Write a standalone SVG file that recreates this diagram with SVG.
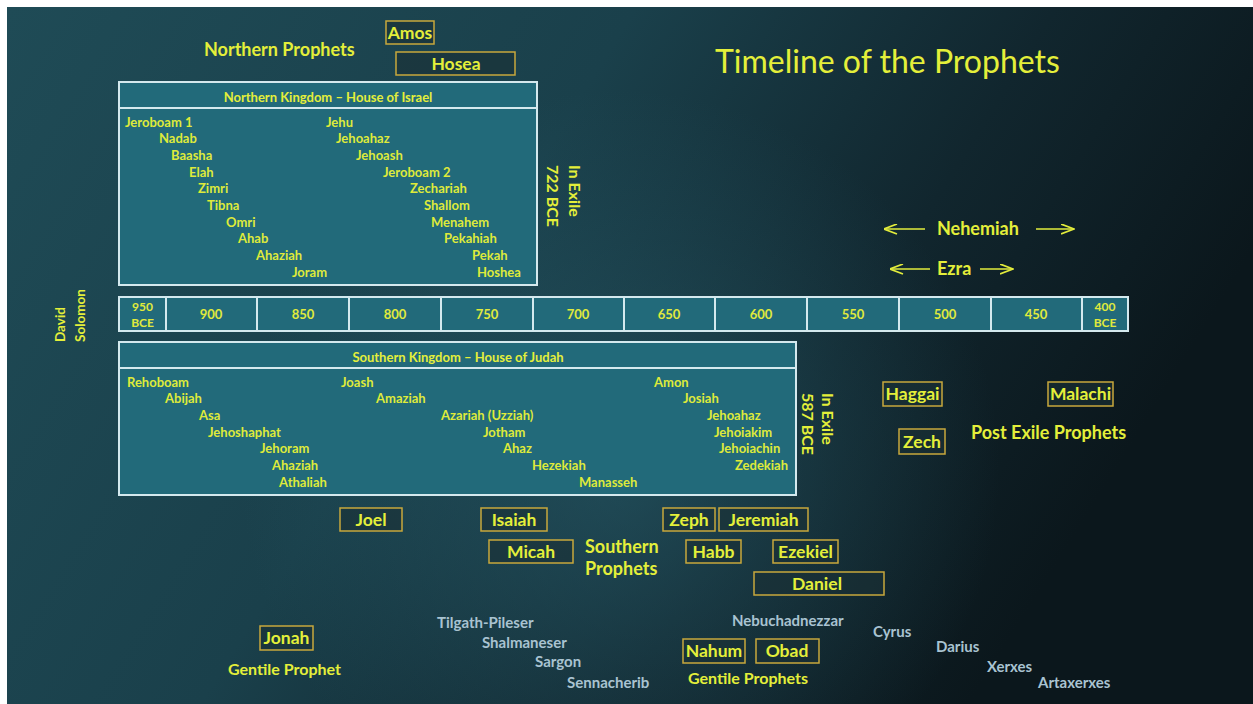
<svg xmlns="http://www.w3.org/2000/svg" width="1253" height="704" viewBox="0 0 1253 704">
<defs>
<linearGradient id="bg" x1="0" y1="0" x2="1" y2="0.35">
<stop offset="0" stop-color="#1f4b56"/>
<stop offset="0.45" stop-color="#1a404b"/>
<stop offset="0.75" stop-color="#11262e"/>
<stop offset="1" stop-color="#0b171c"/>
</linearGradient>
<radialGradient id="glow" cx="620" cy="470" r="380" gradientUnits="userSpaceOnUse">
<stop offset="0" stop-color="#2a6170" stop-opacity="0.55"/>
<stop offset="1" stop-color="#2a6170" stop-opacity="0"/>
</radialGradient>
<marker id="ah" viewBox="0 0 14 11" refX="13.5" refY="5.5" markerWidth="14" markerHeight="11" markerUnits="userSpaceOnUse" orient="auto">
<path d="M0.5,0.5 L13.5,5.5 L0.5,10.5" fill="none" stroke="#e2ec3c" stroke-width="1.7"/>
</marker>
</defs>
<style>
text{font-family:Lato,"Open Sans","Liberation Sans",sans-serif;font-weight:bold;fill:#e4ef3a}
.nm{font-size:13px;fill:#dfea3a}
.hd{font-size:13px;text-anchor:middle}
.yr{font-size:13px;text-anchor:middle;fill:#e0ea3c}
.yr2{font-size:12px;text-anchor:middle;fill:#e0ea3c}
.kbox{fill:#226a7a;stroke:#d4e9ee;stroke-width:2}
.kline{stroke:#d4e9ee;stroke-width:2}
.pbox{fill:#1a3036;fill-opacity:0.6;stroke:#c8a83c;stroke-width:1.5}
.pt{font-size:17.5px;text-anchor:middle}
.lb{font-size:18px}
.gl{font-size:16px}
.kg{font-size:15px;fill:#a9c3d1}
.rot{font-size:16px}
.conn{stroke:#e2ec3c;stroke-width:1.7;fill:none}
</style>
<rect x="0" y="0" width="1253" height="704" fill="#ffffff"/>
<rect x="7" y="7" width="1246" height="697" fill="url(#bg)"/>
<rect x="7" y="7" width="1246" height="697" fill="url(#glow)"/>

<text x="715" y="73" style="font-size:32px;font-weight:normal">Timeline of the Prophets</text>

<g id="northern-prophets-label"><text class="lb" x="204" y="56">Northern  Prophets</text></g>
<g id="amos"><rect class="pbox" x="386" y="21" width="48" height="23"/><text class="pt" x="410" y="38.5">Amos</text></g>
<g id="hosea"><rect class="pbox" x="396" y="52" width="119" height="23"/><text class="pt" x="456" y="69.5">Hosea</text></g>

<g id="northern-kingdom">
<rect class="kbox" x="119" y="82" width="418" height="203"/>
<line class="kline" x1="119" y1="108" x2="537" y2="108"/>
<text class="hd" x="328" y="101.5">Northern Kingdom – House of Israel</text>
<text class="nm" x="125" y="126.5">Jeroboam 1</text>
<text class="nm" x="159" y="143.2">Nadab</text>
<text class="nm" x="171" y="159.8">Baasha</text>
<text class="nm" x="189" y="176.5">Elah</text>
<text class="nm" x="198" y="193.2">Zimri</text>
<text class="nm" x="207" y="209.8">Tibna</text>
<text class="nm" x="226" y="226.5">Omri</text>
<text class="nm" x="238" y="243.2">Ahab</text>
<text class="nm" x="256" y="259.8">Ahaziah</text>
<text class="nm" x="292" y="276.5">Joram</text>
<text class="nm" x="326" y="126.5">Jehu</text>
<text class="nm" x="336" y="143.2">Jehoahaz</text>
<text class="nm" x="356" y="159.8">Jehoash</text>
<text class="nm" x="383" y="176.5">Jeroboam 2</text>
<text class="nm" x="410" y="193.2">Zechariah</text>
<text class="nm" x="424" y="209.8">Shallom</text>
<text class="nm" x="431" y="226.5">Menahem</text>
<text class="nm" x="444" y="243.2">Pekahiah</text>
<text class="nm" x="472" y="259.8">Pekah</text>
<text class="nm" x="477" y="276.5">Hoshea</text>
</g>
<g id="exile-722">
<text class="rot" transform="translate(569,165) rotate(90)">In Exile</text>
<text class="rot" transform="translate(547,165) rotate(90)">722 BCE</text>
</g>

<g id="david-solomon">
<text class="rot" style="font-size:13.5px" transform="translate(65,342) rotate(-90)">David</text>
<text class="rot" style="font-size:13.5px" transform="translate(85,342) rotate(-90)">Solomon</text>
</g>

<g id="timeline-bar">
<rect class="kbox" x="119" y="297" width="1009" height="34"/>
<line class="kline" x1="166" y1="297" x2="166" y2="331"/>
<line class="kline" x1="257" y1="297" x2="257" y2="331"/>
<line class="kline" x1="349" y1="297" x2="349" y2="331"/>
<line class="kline" x1="441" y1="297" x2="441" y2="331"/>
<line class="kline" x1="533" y1="297" x2="533" y2="331"/>
<line class="kline" x1="624" y1="297" x2="624" y2="331"/>
<line class="kline" x1="715" y1="297" x2="715" y2="331"/>
<line class="kline" x1="807" y1="297" x2="807" y2="331"/>
<line class="kline" x1="899" y1="297" x2="899" y2="331"/>
<line class="kline" x1="991" y1="297" x2="991" y2="331"/>
<line class="kline" x1="1082" y1="297" x2="1082" y2="331"/>
<text class="yr2" x="142.5" y="310.5">950</text>
<text class="yr2" x="142.5" y="326.5">BCE</text>
<text class="yr" x="211" y="318.5">900</text>
<text class="yr" x="303" y="318.5">850</text>
<text class="yr" x="395" y="318.5">800</text>
<text class="yr" x="487" y="318.5">750</text>
<text class="yr" x="578" y="318.5">700</text>
<text class="yr" x="669" y="318.5">650</text>
<text class="yr" x="761" y="318.5">600</text>
<text class="yr" x="853" y="318.5">550</text>
<text class="yr" x="945" y="318.5">500</text>
<text class="yr" x="1036" y="318.5">450</text>
<text class="yr2" x="1105" y="310.5">400</text>
<text class="yr2" x="1105" y="326.5">BCE</text>
</g>

<g id="southern-kingdom">
<rect class="kbox" x="119" y="342" width="677" height="153"/>
<line class="kline" x1="119" y1="368" x2="796" y2="368"/>
<text class="hd" x="458" y="361.5">Southern Kingdom – House of Judah</text>
<text class="nm" x="127" y="386.5">Rehoboam</text>
<text class="nm" x="165" y="403.2">Abijah</text>
<text class="nm" x="199" y="419.8">Asa</text>
<text class="nm" x="208" y="436.5">Jehoshaphat</text>
<text class="nm" x="260" y="453.2">Jehoram</text>
<text class="nm" x="272" y="469.8">Ahaziah</text>
<text class="nm" x="279" y="486.5">Athaliah</text>
<text class="nm" x="341" y="386.5">Joash</text>
<text class="nm" x="376" y="403.2">Amaziah</text>
<text class="nm" x="441" y="419.8">Azariah (Uzziah)</text>
<text class="nm" x="483" y="436.5">Jotham</text>
<text class="nm" x="503" y="453.2">Ahaz</text>
<text class="nm" x="532" y="469.8">Hezekiah</text>
<text class="nm" x="579" y="486.5">Manasseh</text>
<text class="nm" x="654" y="386.5">Amon</text>
<text class="nm" x="683" y="403.2">Josiah</text>
<text class="nm" x="707" y="419.8">Jehoahaz</text>
<text class="nm" x="714" y="436.5">Jehoiakim</text>
<text class="nm" x="719" y="453.2">Jehoiachin</text>
<text class="nm" x="735" y="469.8">Zedekiah</text>
</g>
<g id="exile-587">
<text class="rot" transform="translate(822,393) rotate(90)">In Exile</text>
<text class="rot" transform="translate(802,393) rotate(90)">587 BCE</text>
</g>

<g id="nehemiah"><text class="lb" x="937" y="235">Nehemiah</text></g>
<g id="ezra"><text class="lb" x="937" y="275">Ezra</text></g>

<g id="connectors">
<line class="conn" x1="925" y1="229" x2="884" y2="229" marker-end="url(#ah)"/>
<line class="conn" x1="1036" y1="229" x2="1074" y2="229" marker-end="url(#ah)"/>
<line class="conn" x1="930" y1="269" x2="890" y2="269" marker-end="url(#ah)"/>
<line class="conn" x1="980" y1="269" x2="1013" y2="269" marker-end="url(#ah)"/>
</g>

<g id="haggai"><rect class="pbox" x="883" y="382" width="59" height="24"/><text class="pt" x="912.5" y="400">Haggai</text></g>
<g id="malachi"><rect class="pbox" x="1048" y="382" width="65" height="24"/><text class="pt" x="1080.5" y="400">Malachi</text></g>
<g id="zech"><rect class="pbox" x="899" y="429" width="46" height="25"/><text class="pt" x="922" y="447.5">Zech</text></g>
<g id="post-exile-label"><text class="lb" x="971" y="439">Post Exile Prophets</text></g>

<g id="joel"><rect class="pbox" x="340" y="508" width="62" height="23"/><text class="pt" x="371" y="525.5">Joel</text></g>
<g id="isaiah"><rect class="pbox" x="481" y="508" width="66" height="23"/><text class="pt" x="514" y="525.5">Isaiah</text></g>
<g id="zeph"><rect class="pbox" x="663" y="508" width="52" height="23"/><text class="pt" x="689" y="525.5">Zeph</text></g>
<g id="jeremiah"><rect class="pbox" x="719" y="508" width="89" height="23"/><text class="pt" x="763.5" y="525.5">Jeremiah</text></g>
<g id="micah"><rect class="pbox" x="489" y="540" width="84" height="23"/><text class="pt" x="531" y="557.5">Micah</text></g>
<g id="southern-prophets-label"><text class="lb" x="585" y="553">Southern</text><text class="lb" x="585" y="575">Prophets</text></g>
<g id="habb"><rect class="pbox" x="686" y="540" width="55" height="23"/><text class="pt" x="713.5" y="557.5">Habb</text></g>
<g id="ezekiel"><rect class="pbox" x="773" y="540" width="65" height="23"/><text class="pt" x="805.5" y="557.5">Ezekiel</text></g>
<g id="daniel"><rect class="pbox" x="754" y="572" width="130" height="23"/><text class="pt" x="817" y="589.5">Daniel</text></g>

<g id="jonah"><rect class="pbox" x="260" y="626" width="53" height="24"/><text class="pt" x="286.5" y="644">Jonah</text></g>
<g id="gentile-prophet-label"><text class="gl" x="228" y="674.5">Gentile Prophet</text></g>
<g id="nahum"><rect class="pbox" x="683" y="639" width="62" height="24"/><text class="pt" x="714" y="657">Nahum</text></g>
<g id="obad"><rect class="pbox" x="756" y="639" width="63" height="24"/><text class="pt" x="787" y="657">Obad</text></g>
<g id="gentile-prophets-label"><text class="gl" x="688" y="683.5">Gentile Prophets</text></g>

<g id="gentile-kings">
<text class="kg" x="437" y="628">Tilgath-Pileser</text>
<text class="kg" x="482" y="648">Shalmaneser</text>
<text class="kg" x="535" y="667">Sargon</text>
<text class="kg" x="567" y="688">Sennacherib</text>
<text class="kg" x="732" y="626">Nebuchadnezzar</text>
<text class="kg" x="873" y="637">Cyrus</text>
<text class="kg" x="936" y="652">Darius</text>
<text class="kg" x="987" y="672">Xerxes</text>
<text class="kg" x="1038" y="688">Artaxerxes</text>
</g>
</svg>
